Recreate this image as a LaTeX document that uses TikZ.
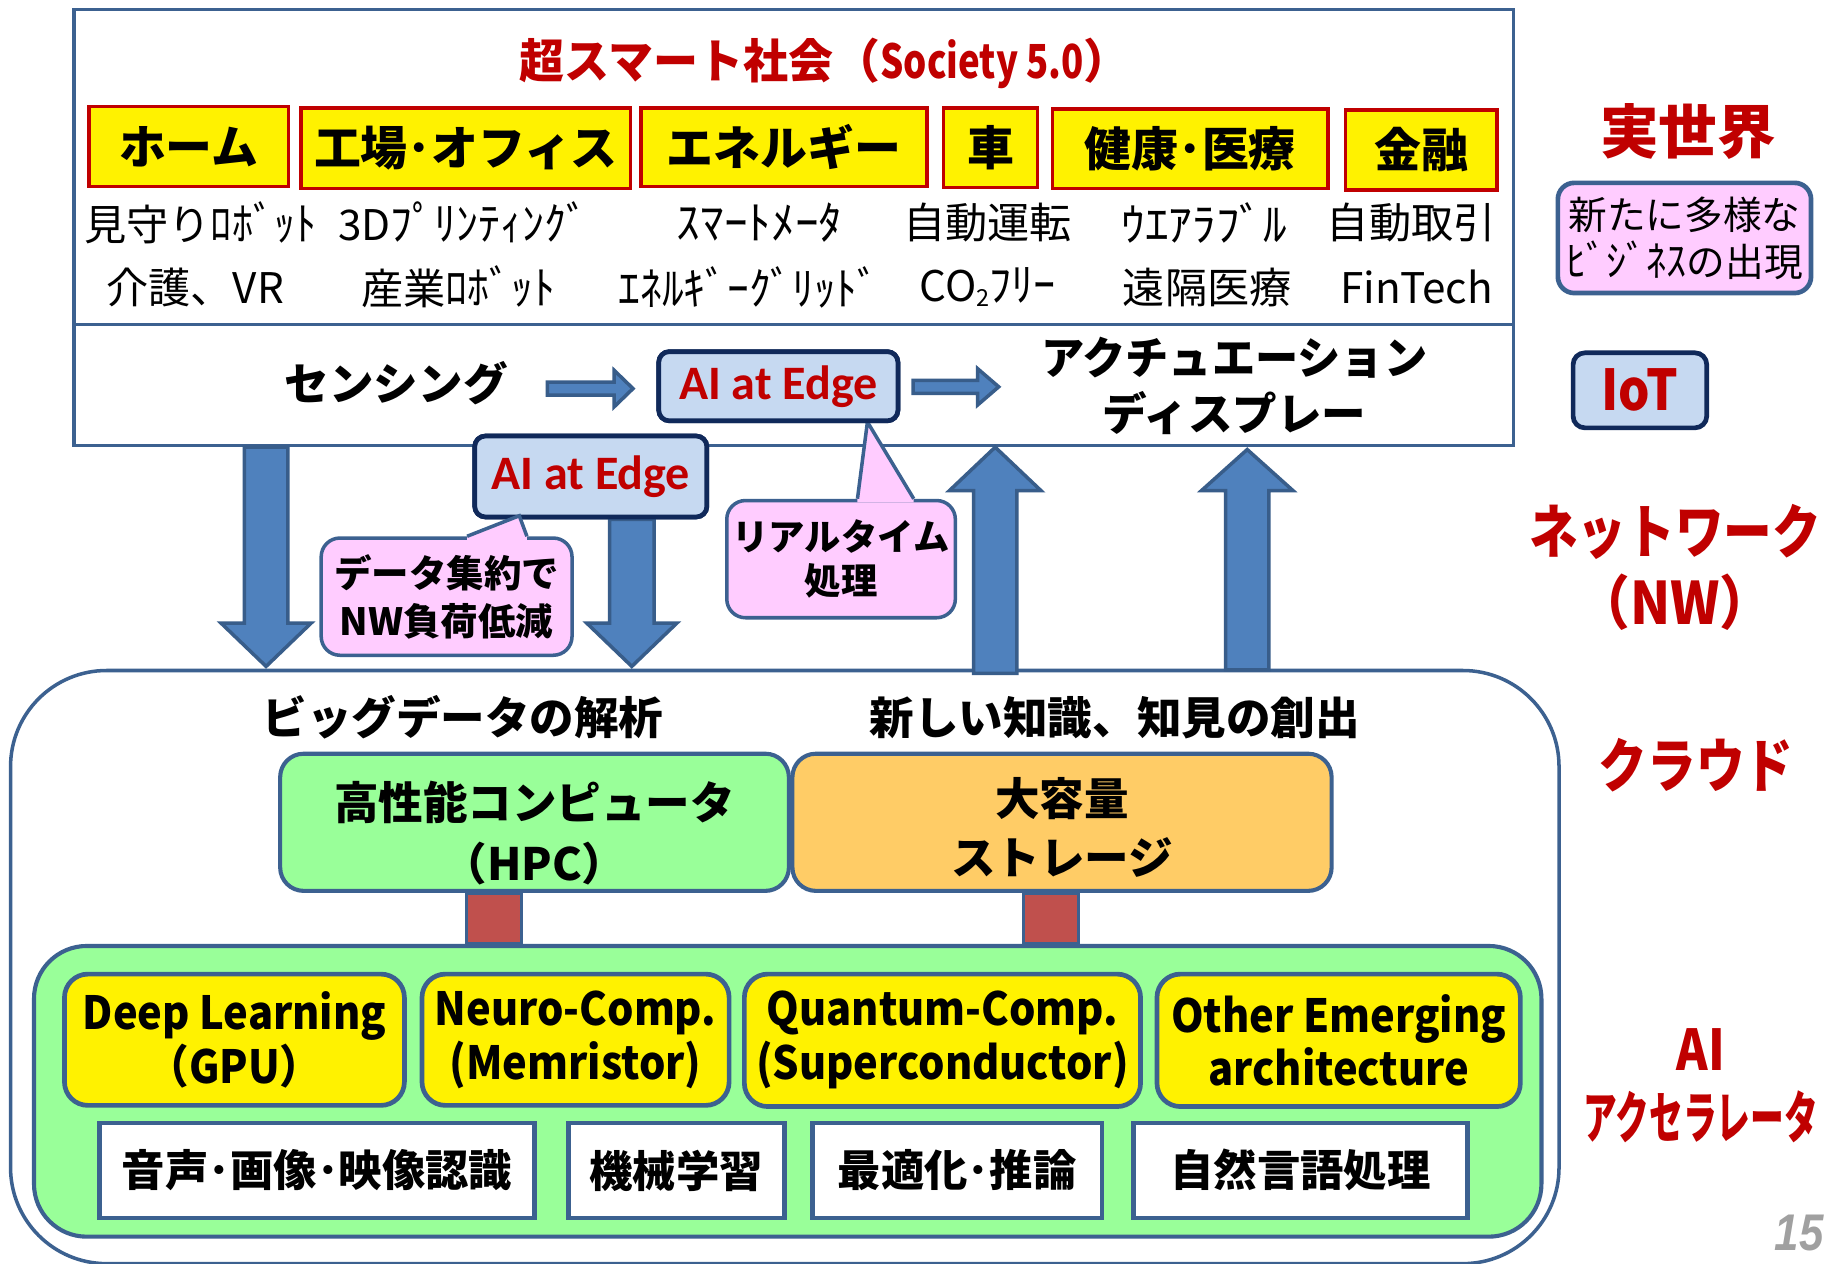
\documentclass[tikz,border=0pt]{standalone}
\usepackage{fontspec}
\usepackage{graphicx}
\setmainfont{Noto Sans CJK JP}
\newfontfamily\calib{Carlito}
\newfontfamily\pgfont{Liberation Sans}
\usetikzlibrary{calc}
\definecolor{frameblue}{HTML}{3C6190}
\definecolor{arrowfill}{HTML}{4F81BD}
\definecolor{arrowline}{HTML}{385D8A}
\definecolor{navy}{HTML}{10295A}
\definecolor{lightblue}{HTML}{C6D9F1}
\definecolor{pinkfill}{HTML}{FFCCFF}
\definecolor{darkred}{HTML}{C00000}
\definecolor{greenfill}{HTML}{99FF99}
\definecolor{orangefill}{HTML}{FFCC66}
\definecolor{brick}{HTML}{C0504D}
\definecolor{pagegray}{HTML}{A0A0A0}
\newcommand\fs[2]{\fontsize{#1}{#2}\selectfont}
\newcommand\hsc[2]{\scalebox{#1}[1]{#2}}
% vertical block arrow: tail coord, tip coord, shaft half width, head half width, head length
\newcommand\vbarrow[5]{%
  \filldraw[blockarrow] let \p1=(#1), \p2=(#2), \n1={sign(\y1-\y2)} in
   ({\x2-#3},\y1) -- ({\x2-#3},{\y2+\n1*#5}) -- ({\x2-#4},{\y2+\n1*#5}) -- (\x2,\y2)
   -- ({\x2+#4},{\y2+\n1*#5}) -- ({\x2+#3},{\y2+\n1*#5}) -- ({\x2+#3},\y1) -- cycle;}
% horizontal block arrow
\newcommand\hbarrow[5]{%
  \filldraw[blockarrow] let \p1=(#1), \p2=(#2), \n1={sign(\x1-\x2)} in
   (\x1,{\y2-#3}) -- ({\x2+\n1*#5},{\y2-#3}) -- ({\x2+\n1*#5},{\y2-#4}) -- (\x2,\y2)
   -- ({\x2+\n1*#5},{\y2+#4}) -- ({\x2+\n1*#5},{\y2+#3}) -- (\x1,{\y2+#3}) -- cycle;}
\tikzset{
  frame/.style={draw=frameblue, line width=3pt, fill=white, inner sep=0pt},
  catbox/.style={draw=darkred, line width=3pt, fill=yellow, inner sep=0pt, font=\fs{40}{40}\bfseries},
  subtxt/.style={inner sep=0pt, font=\fs{36}{36}},
  midtxt/.style={inner sep=0pt, align=center, font=\fs{38}{48}\bfseries},
  edgebox/.style={draw=navy, line width=4pt, fill=lightblue, rounded corners=9pt, inner sep=0pt,
     text=darkred, font=\calib\fs{41}{41}\bfseries},
  callbox/.style={draw=frameblue, line width=3pt, fill=pinkfill, rounded corners=16pt, inner sep=0pt,
     align=center, font=\fs{32}{41}\bfseries},
  callfill/.style={fill=pinkfill},
  callline/.style={draw=frameblue, line width=3pt, line join=miter},
  blockarrow/.style={fill=arrowfill, draw=arrowline, line width=3pt, line join=miter},
  redlabel/.style={inner sep=0pt, align=center, text=darkred, font=\bfseries},
  cloudtxt/.style={inner sep=0pt, font=\fs{38}{38}\bfseries},
  bigbox/.style={draw=frameblue, line width=3.5pt, rounded corners=20pt, inner sep=0pt},
  bigtxt/.style={inner sep=0pt, align=center, font=\fs{38}{52}\bfseries},
  accbox/.style={draw=frameblue, line width=4pt, fill=yellow, rounded corners=20pt, inner sep=0pt,
     align=center, font=\fs{39}{46}\bfseries},
  whitebox/.style={draw=frameblue, line width=4pt, fill=white, inner sep=0pt, font=\fs{37}{37}\bfseries},
  conn/.style={fill=brick, draw=frameblue, line width=3pt},
}
\newcommand\hk[1]{\scalebox{1.12}[1.08]{#1}}
\newcommand\ac[2]{\hsc{0.91}{#1}\\\hsc{0.91}{#2}}
\begin{document}
\begin{tikzpicture}[x=1pt,y=-1pt]
\useasboundingbox (0,0) rectangle (1568,1078);
\fill[white] (0,0) rectangle (1568,1078);

% ---------- cloud ----------
\node[frame, rounded corners=82pt, minimum width=1321pt, minimum height=506pt] (cloud) at (669.5,825) {};

% ---------- real world / IoT frame ----------
\node[frame, minimum width=1228pt, minimum height=269pt] (society) at (677,142.5) {};
\node[frame, minimum width=1228pt, minimum height=103pt] (iot) at (677,328.5) {};

\node[redlabel, font=\fs{40}{40}\bfseries] (title) at (704,54)
  {\hsc{0.96}{超スマート社会}（\hsc{0.78}{Society 5.0}）};

\node[catbox, minimum width=170pt, minimum height=68pt] (home) at (161,125) {ホーム};
\node[catbox, minimum width=281pt, minimum height=69pt] (factory) at (397.5,126.5) {工場･オフィス};
\node[catbox, minimum width=244pt, minimum height=67pt] (energy) at (669,125.5) {エネルギー};
\node[catbox, minimum width=80pt, minimum height=68pt] (car) at (845,126) {車};
\node[catbox, minimum width=235pt, minimum height=68pt] (health) at (1015.5,127) {健康･医療};
\node[catbox, minimum width=129pt, minimum height=68pt] (finance) at (1212.5,128) {金融};

\node[subtxt] (s11) at (171,190) {見守り\scalebox{1}[1.08]{ﾛﾎﾞｯﾄ}};
\node[subtxt] (s12) at (395,190) {3D\scalebox{1.04}[1.08]{ﾌﾟﾘﾝﾃｨﾝｸﾞ}};
\node[subtxt] (s13) at (648,190) {\hk{ｽﾏｰﾄﾒｰﾀ}};
\node[subtxt] (s14) at (842.5,190) {自動運転};
\node[subtxt] (s15) at (1027.5,190) {\hk{ｳｴｱﾗﾌﾞﾙ}};
\node[subtxt] (s16) at (1204,190) {自動取引};
\node[subtxt] (s21) at (166.5,245) {介護、VR};
\node[subtxt] (s22) at (391,245) {産業\scalebox{1.04}[1.08]{ﾛﾎﾞｯﾄ}};
\node[subtxt] (s23) at (639,245) {\scalebox{1.03}[1.08]{ｴﾈﾙｷﾞｰｸﾞﾘｯﾄﾞ}};
\node[subtxt] (s24) at (842.5,245) {CO\raisebox{-4pt}{\fs{20}{20}2}\scalebox{1.05}[1.08]{ﾌﾘｰ}};
\node[subtxt] (s25) at (1030,245) {遠隔医療};
\node[subtxt] (s26) at (1208.5,245) {FinTech};

\node[midtxt] (sensing) at (338,327) {センシング};
\node[midtxt] (actuation) at (1053,329) {\hsc{0.97}{アクチュエーション}\\ディスプレー};

% ---------- block arrows ----------
\coordinate (xa) at (227,0);
\coordinate (xb) at (539,0);
\coordinate (xc) at (849,0);
\coordinate (xd) at (1064,0);
\coordinate (d1a) at (iot.south -| xa);
\coordinate (d1b) at ([yshift=2pt]cloud.north -| xa);
\coordinate (u1a) at ([yshift=-4pt]cloud.north -| xc);
\coordinate (u1b) at (iot.south -| xc);
\coordinate (u2a) at ([yshift=-1pt]cloud.north -| xd);
\coordinate (u2b) at ([yshift=-2pt]iot.south -| xd);
\coordinate (h1a) at (467,331.5);
\coordinate (h1b) at (540,331.5);
\coordinate (h2a) at (779,330);
\coordinate (h2b) at (852,330);

\vbarrow{d1a}{d1b}{18.5pt}{38.5pt}{37pt}
\vbarrow{u1a}{u1b}{18.5pt}{39pt}{37pt}
\vbarrow{u2a}{u2b}{18.5pt}{39pt}{35pt}
\hbarrow{h1a}{h1b}{5.5pt}{15.5pt}{16pt}
\hbarrow{h2a}{h2b}{5.5pt}{15.5pt}{18pt}

% ---------- callouts ----------
\node[callbox, minimum width=214pt, minimum height=100pt] (calldata) at (381,509)
  {\raisebox{-2pt}{データ集約で}\\\raisebox{-2pt}{NW負荷低減}};
\node[callbox, minimum width=195pt, minimum height=100pt, font=\fs{31}{38}\bfseries] (callrt) at (717.5,477)
  {リアルタイム\\処理};

% ---------- AI at Edge boxes ----------
\node[edgebox, minimum width=198pt, minimum height=69pt] (aiedge2) at (504,406.5) {AI at Edge};
\node[edgebox, minimum width=204pt, minimum height=59pt] (aiedge1) at (664,329.5) {AI at Edge};

\coordinate (d2a) at (aiedge2.south -| xb);
\coordinate (d2b) at ([yshift=2pt]cloud.north -| xb);
\vbarrow{d2a}{d2b}{19pt}{38.5pt}{37pt}
\node[edgebox, minimum width=198pt, minimum height=69pt] at (aiedge2) {AI at Edge};

% callout pointers
\coordinate (cdl) at ($(calldata.north west)+(126,0)$);
\coordinate (cdr) at ($(calldata.north west)+(177,0)$);
\coordinate (cdt) at ($(aiedge2.south)+(-61,-3)$);
\fill[callfill] ($(cdl)+(0,3)$) -- (cdl) -- (cdt) -- (cdr) -- ($(cdr)+(0,3)$) -- cycle;
\draw[callline] (cdl) -- (cdt) -- (cdr);
\coordinate (crl) at ($(callrt.north west)+(113,0)$);
\coordinate (crr) at ($(callrt.north west)+(161,0)$);
\coordinate (crt) at ($(aiedge1.south)+(76,-1)$);
\fill[callfill] ($(crl)+(0,3)$) -- (crl) -- (crt) -- (crr) -- ($(crr)+(0,3)$) -- cycle;
\draw[callline] (crl) -- (crt) -- (crr);
\node[edgebox, minimum width=204pt, minimum height=59pt] at (aiedge1) {AI at Edge};

% ---------- right side labels ----------
\node[redlabel, font=\fs{50}{50}\bfseries] (realworld) at (1440,112) {実世界};
\node[draw=frameblue, line width=4pt, fill=pinkfill, rounded corners=14pt, inner sep=0pt,
  minimum width=216pt, minimum height=94pt, align=center, font=\fs{33}{40}] (newbiz) at (1437,203)
  {新たに多様な\\\scalebox{1.04}[1.08]{ﾋﾞｼﾞﾈｽ}の出現};
\node[draw=navy, line width=4pt, fill=lightblue, rounded corners=10pt, inner sep=0pt,
  minimum width=114pt, minimum height=64pt, text=darkred, font=\fs{48}{48}\bfseries] (iotlabel) at (1399,333)
  {\hsc{0.88}{IoT}};
\node[redlabel, font=\fs{50}{60}\bfseries] (nw) at (1429,484)
  {\hsc{0.83}{ネットワーク}\\\hsc{0.9}{（NW）}};
\node[redlabel, font=\fs{50}{50}\bfseries] (cloudlabel) at (1447,653) {\hsc{0.83}{クラウド}};
\node[redlabel, font=\fs{48}{58}\bfseries] (ailabel) at (1451,926)
  {\hsc{0.85}{AI}\\\hsc{0.6}{アクセラレータ}};

% ---------- cloud contents ----------
\node[cloudtxt] (bigdata) at (395,612) {ビッグデータの解析};
\node[cloudtxt] (newknow) at (951,612) {新しい知識、知見の創出};

\node[bigbox, fill=greenfill, minimum width=434pt, minimum height=117pt] (hpc) at (456,701.5) {};
\node[bigtxt] (hpctext) at ($(hpc)+(0,9)$) {高性能コンピュータ\\（HPC）};
\node[bigbox, fill=orangefill, minimum width=460pt, minimum height=117pt] (storage) at (906,701.5) {};
\node[bigtxt, font=\fs{38}{50}\bfseries] (stortext) at ($(storage)+(0,4.5)$) {大容量\\ストレージ};

\node[draw=frameblue, line width=3.5pt, fill=greenfill, rounded corners=45pt, inner sep=0pt,
  minimum width=1286pt, minimum height=248pt] (accel) at (672,931) {};

\draw[conn] ($(hpc.south)+(-58,0)$) rectangle ($(hpc.south |- accel.north)+(-11,0)$);
\draw[conn] ($(storage.south)+(-33,0)$) rectangle ($(storage.south |- accel.north)+(14,0)$);

\node[accbox, minimum width=290pt, minimum height=112pt] (dl) at (200,887) {\ac{Deep Learning}{（GPU）}};
\node[accbox, minimum width=262pt, minimum height=112pt] (neuro) at (491,887) {\ac{Neuro-Comp.}{(Memristor)}};
\node[accbox, minimum width=338pt, minimum height=113pt] (quantum) at (804,887.5) {\ac{Quantum-Comp.}{(Superconductor)}};
\node[accbox, minimum width=310pt, minimum height=113pt] (other) at (1142,887.5) {\ac{Other Emerging}{architecture}};

\node[whitebox, minimum width=371pt, minimum height=81pt] (av) at (270.5,998.5) {音声･画像･映像認識};
\node[whitebox, minimum width=184pt, minimum height=81pt] (ml) at (577,998.5) {機械学習};
\node[whitebox, minimum width=247pt, minimum height=81pt] (opt) at (816.5,998.5) {最適化･推論};
\node[whitebox, minimum width=285pt, minimum height=81pt] (nlp) at (1109.5,998.5) {自然言語処理};

\node[inner sep=0pt, anchor=east, text=pagegray, font=\pgfont\fs{44}{44}\bfseries\itshape] (pagenum) at (1556,1052)
  {\hsc{0.85}{15}};
\end{tikzpicture}
\end{document}
